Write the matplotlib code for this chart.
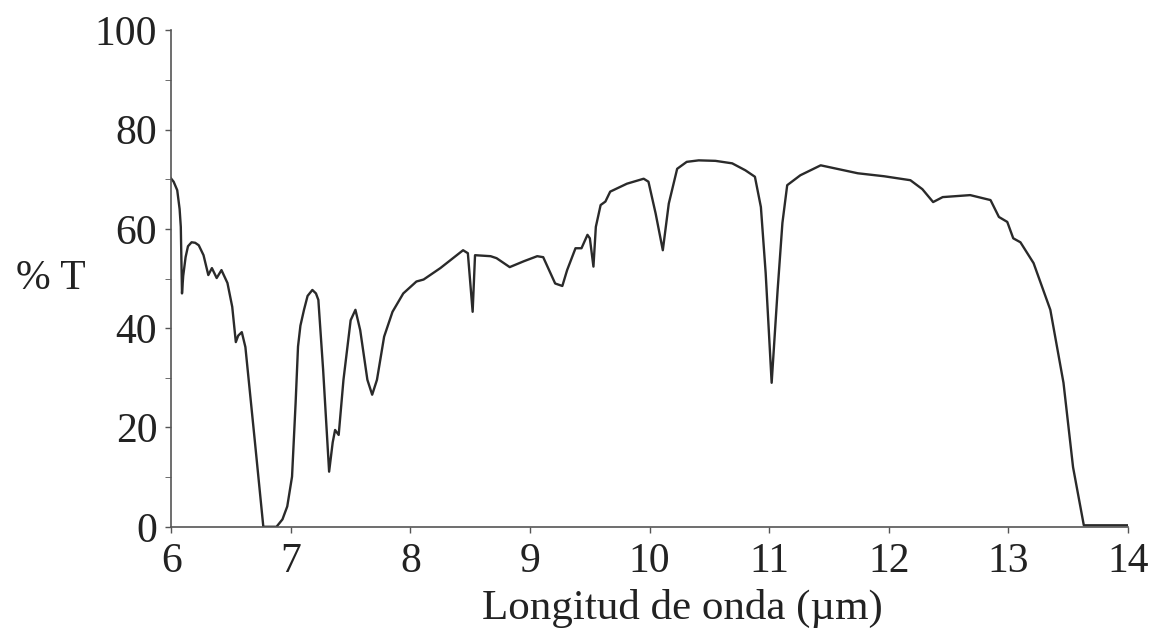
import matplotlib.pyplot as plt
import numpy as np

# IR transmission spectrum, read point by point
wavelength = [5.99, 6.02, 6.05, 6.07, 6.08, 6.09, 6.10, 6.12, 6.14, 6.17, 6.20, 6.23, 6.27,
              6.31, 6.34, 6.38, 6.42, 6.47, 6.51, 6.54, 6.56, 6.59, 6.62, 6.70, 6.77,
              6.88, 6.93, 6.97, 7.01, 7.04, 7.06, 7.08, 7.11, 7.14, 7.18, 7.21, 7.23,
              7.27, 7.32, 7.35, 7.37, 7.40, 7.44, 7.50, 7.54, 7.58, 7.64, 7.68, 7.72,
              7.78, 7.85, 7.94, 8.05, 8.11, 8.25, 8.44, 8.48, 8.52, 8.54, 8.67, 8.72,
              8.83, 8.95, 9.06, 9.11, 9.21, 9.27, 9.31, 9.38, 9.43, 9.48, 9.50, 9.53,
              9.55, 9.59, 9.63, 9.67, 9.81, 9.95, 9.99, 10.05, 10.11, 10.16, 10.23,
              10.31, 10.41, 10.55, 10.69, 10.80, 10.88, 10.93, 10.97, 11.02, 11.07,
              11.11, 11.15, 11.26, 11.43, 11.74, 11.96, 12.18, 12.28, 12.37, 12.45,
              12.68, 12.85, 12.92, 12.99, 13.04, 13.10, 13.21, 13.35, 13.46, 13.54,
              13.63, 13.70, 14.00]
transmittance = [70.4, 69.5, 67.8, 64.0, 60.4, 47.0, 50.5, 54.3, 56.5, 57.3, 57.2, 56.7, 54.7,
                 50.7, 52.1, 50.1, 51.7, 49.1, 44.3, 37.2, 38.5, 39.2, 36.2, 17.0, 0.0,
                 0.0, 1.5, 4.1, 10.1, 25.0, 36.3, 40.5, 43.7, 46.5, 47.7, 47.0, 45.7,
                 31.6, 11.1, 17.0, 19.5, 18.5, 29.6, 41.6, 43.7, 39.6, 29.6, 26.6, 29.6,
                 38.3, 43.3, 47.0, 49.4, 49.8, 52.1, 55.7, 55.1, 43.3, 54.7, 54.5, 54.1,
                 52.3, 53.5, 54.5, 54.3, 49.0, 48.5, 51.7, 56.1, 56.1, 58.8, 58.1, 52.4,
                 60.4, 64.8, 65.5, 67.5, 69.1, 70.1, 69.5, 63.1, 55.7, 65.1, 72.1,
                 73.5, 73.8, 73.7, 73.2, 71.8, 70.5, 64.4, 51.1, 29.0, 47.7,
                 61.2, 68.8, 70.8, 72.8, 71.2, 70.6, 69.8, 68.0, 65.4, 66.4,
                 66.8, 65.8, 62.4, 61.4, 58.1, 57.3, 53.1, 43.7, 29.0, 12.0,
                 0.3, 0.3, 0.3]

x_ticks = [6, 7, 8, 9, 10, 11, 12, 13, 14]
y_ticks = [0, 20, 40, 60, 80, 100]

plt.rcParams['font.family'] = ['Liberation Serif', 'DejaVu Serif']

fig = plt.figure(figsize=(11.57, 6.44), dpi=100)
ax = fig.add_axes([0.148, 0.182, 0.827, 0.771])

ax.plot(wavelength, transmittance, color='#2a2a2a', linewidth=1.7,
        solid_joinstyle='round', antialiased=True)

ax.set_xlim(6, 14)
ax.set_ylim(0, 100)
ax.set_xticks(x_ticks)
ax.set_yticks(y_ticks)
ax.set_yticks(np.arange(10, 100, 20), minor=True)
ax.tick_params(axis='both', labelsize=30, colors='#555555', labelcolor='#222222',
               length=4, width=1)
ax.tick_params(axis='y', which='minor', length=4, colors='#555555')
ax.tick_params(axis='y', pad=6)
ax.tick_params(axis='x', pad=7)

for side in ['top', 'right']:
    ax.spines[side].set_visible(False)
for side in ['left', 'bottom']:
    ax.spines[side].set_color('#555555')
    ax.spines[side].set_linewidth(1.2)

fig.text(0.59, 0.055, 'Longitud de onda (µm)', fontsize=31, color='#222222',
         ha='center', va='center')
fig.text(0.014, 0.567, '% T', fontsize=30, color='#222222', va='center', ha='left')

fig.savefig('out.png', dpi=100, facecolor='white')
